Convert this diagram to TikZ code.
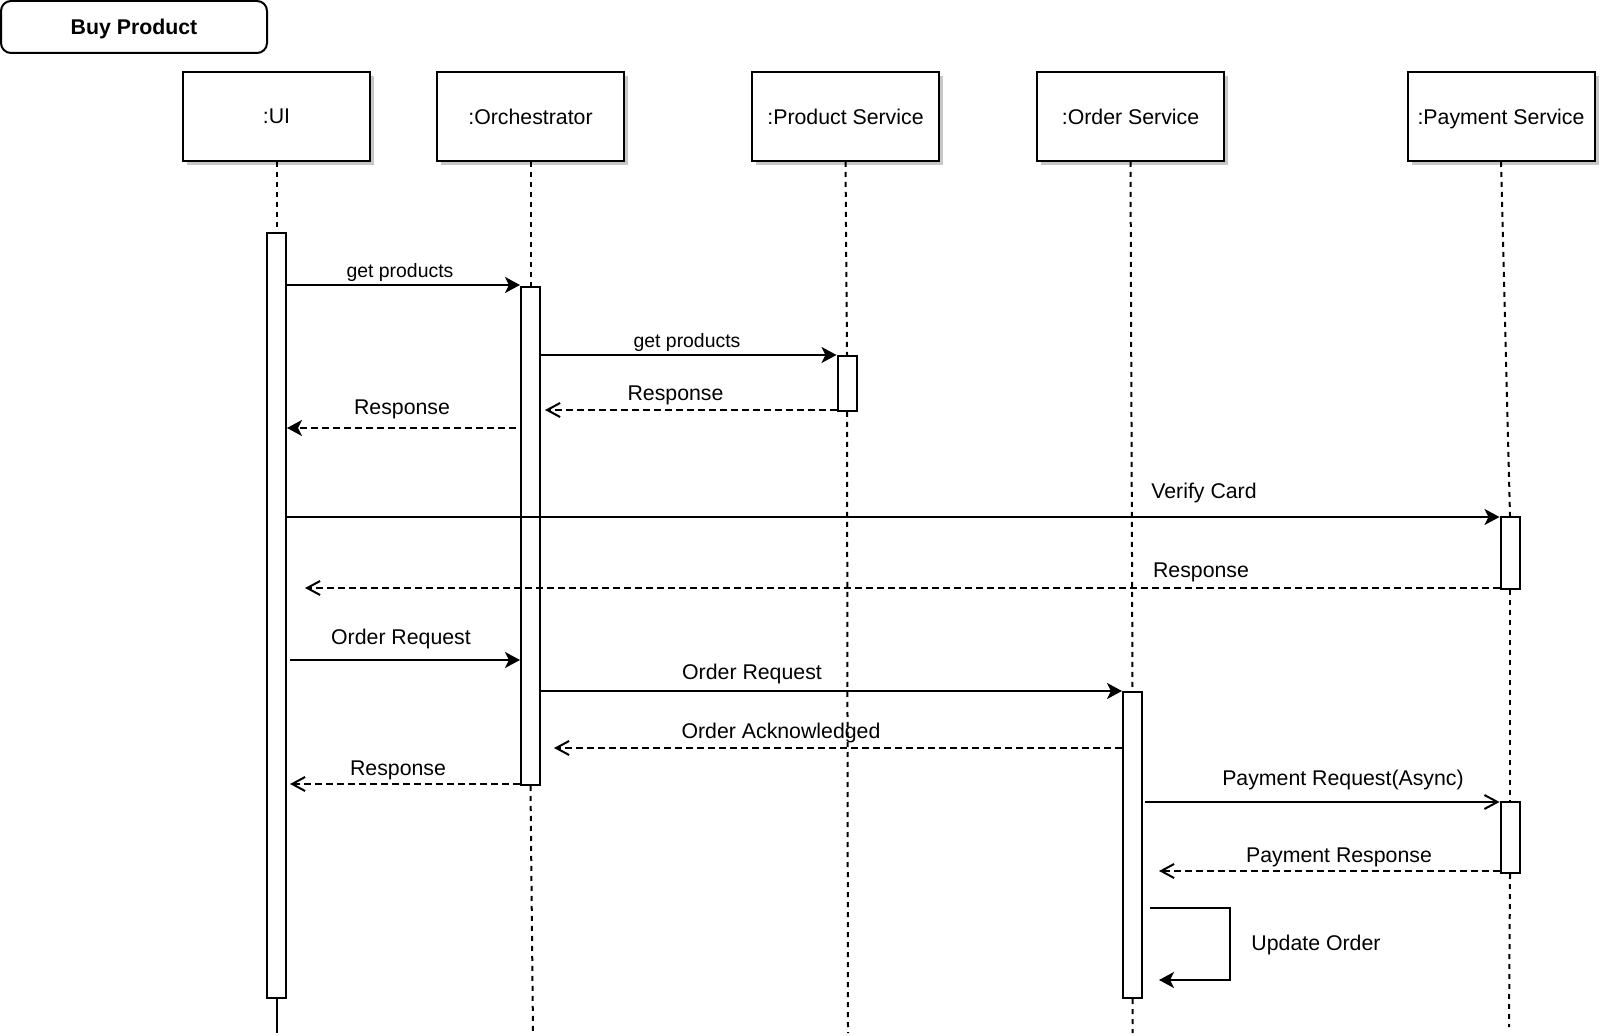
\documentclass[tikz,border=0pt]{standalone}
\usepackage{fontspec}
\setmainfont{Liberation Sans}
\usetikzlibrary{arrows.meta,shadows}

\begin{document}
\begin{tikzpicture}[x=0.5pt,y=-0.5pt,
  head/.style={draw, line width=1pt, fill=white, minimum width=93.5pt, minimum height=44.5pt,
    inner sep=0pt, text depth=0pt, general shadow={fill=black!22, shadow xshift=2pt, shadow yshift=-2pt},
    font=\fontsize{10.65}{13}\selectfont},
  act/.style={draw, line width=1pt, fill=white, minimum width=9.5pt, inner sep=0pt, anchor=north},
  life/.style={line width=1pt, dash pattern=on 2.5pt off 2.5pt},
  msg/.style={line width=1pt},
  ret/.style={msg, dash pattern=on 3.5pt off 2pt},
  tip/.style={-{Stealth[length=7.5pt,width=8pt,inset=2pt]}},
  opentip/.style={-{Straight Barb[length=6.5pt,width=7pt]}},
  lbl/.style={font=\fontsize{10.65}{13}\selectfont, inner sep=0pt, yshift=-1pt},
  small/.style={font=\fontsize{9.7}{12}\selectfont, inner sep=0pt, yshift=-1pt}]
  \useasboundingbox (0,0) rectangle (1600,1036);

  \node[draw, line width=1pt, rounded corners=5pt, minimum width=133pt, minimum height=26pt,
    text depth=0pt, font=\fontsize{10.65}{13}\selectfont\bfseries] (title) at (134,27) {Buy Product};

  \node[head] (ui) at (276.5,116.5) {:UI};
  \node[head] (orch) at (530.5,116.5) {:Orchestrator};
  \node[head] (prod) at (845.5,116.5) {:Product Service};
  \node[head] (order) at (1130.5,116.5) {:Order Service};
  \node[head] (pay) at (1501,116.5) {:Payment Service};

  \node[act, minimum height=382.5pt] (uiact) at (276.5,232) {};
  \node[act, minimum height=249pt] (orchact) at (530.5,286) {};
  \node[act, minimum height=27.5pt] (prodact) at (847,355) {};
  \node[act, minimum height=36pt] (payact1) at (1510,516) {};
  \node[act, minimum height=153pt] (orderact) at (1132.5,691) {};
  \node[act, minimum height=35.5pt] (payact2) at (1510,801) {};

  \coordinate (uiend) at (276.5,1033);
  \coordinate (orchend) at (533,1033);
  \coordinate (prodend) at (848,1033);
  \coordinate (orderend) at (1132.7,1033);
  \coordinate (payend) at (1509,1027);

  \draw[life] (ui.south) -- (uiact.north);
  \draw[msg] (uiact.south) -- (uiend);
  \draw[life] (orch.south) -- (orchact.north);
  \draw[life] (orchact.south) -- (orchend);
  \draw[life] (prod.south) -- (prodact.north);
  \draw[life] (prodact.south) -- (prodend);
  \draw[life] (order.south) -- (orderact.north);
  \draw[life] (orderact.south) -- (orderend);
  \draw[life] (pay.south) -- (payact1.north);
  \draw[life] (payact1.south) -- (payact2.north);
  \draw[life] (payact2.south) -- (payend);

  \draw[msg,tip] (uiact.east |- 0,285) -- (orchact.west |- 0,285);
  \node[small] (l1) at (400,270) {get products};
  \draw[msg,tip] (orchact.east |- 0,355) -- (prodact.west |- 0,355);
  \node[small] (l2) at (687,340) {get products};
  \draw[ret,opentip,shorten >=2pt] (prodact.west |- 0,410) -- (orchact.east |- 0,410);
  \node[lbl] (l3) at (675.5,393) {Response};
  \draw[ret,tip,shorten <=2pt] (orchact.west |- 0,428) -- (uiact.east |- 0,428);
  \node[lbl] (l4) at (402,407) {Response};
  \draw[msg,tip] (uiact.east |- 0,517) -- (payact1.west |- 0,517);
  \node[lbl] (l5) at (1204,491) {Verify Card};
  \draw[ret,opentip,shorten >=9pt] (payact1.west |- 0,588) -- (uiact.east |- 0,588);
  \node[lbl] (l6) at (1201,570) {Response};
  \draw[msg,tip,shorten <=1.5pt] (uiact.east |- 0,660) -- (orchact.west |- 0,660);
  \node[lbl] (l7) at (401,637) {Order Request};
  \draw[msg,tip] (orchact.east |- 0,691) -- (orderact.west |- 0,691);
  \node[lbl] (l8) at (752,672) {Order Request};
  \draw[ret,opentip,shorten >=6.5pt] (orderact.west |- 0,748) -- (orchact.east |- 0,748);
  \node[lbl] (l9) at (781,731) {Order Acknowledged};
  \draw[ret,opentip,shorten >=1.5pt] (orchact.west |- 0,784) -- (uiact.east |- 0,784);
  \node[lbl] (l10) at (398,768) {Response};
  \draw[msg,opentip,shorten <=1pt] (orderact.east |- 0,802) -- (payact2.west |- 0,802);
  \node[lbl] (l11) at (1343,778) {Payment Request(Async)};
  \draw[ret,opentip,shorten >=8pt] (payact2.west |- 0,871) -- (orderact.east |- 0,871);
  \node[lbl] (l12) at (1339,855) {Payment Response};
  \draw[msg,tip,shorten <=3.5pt,shorten >=8pt] (orderact.east |- 0,908) -- ++(87,0) -- ++(0,72)
    -- (orderact.east |- 0,980);
  \node[lbl] (l13) at (1316,943) {Update Order};
\end{tikzpicture}
\end{document}
